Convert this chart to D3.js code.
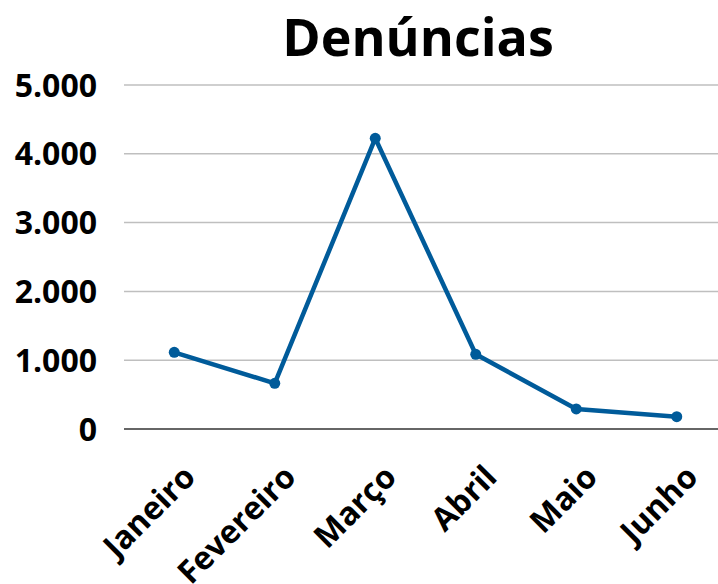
<!DOCTYPE html>
<html>
<head>
<meta charset="utf-8">
<script src="https://cdn.jsdelivr.net/npm/d3@7"></script>
<style>
  body { margin: 0; background: #fff; }
  text { font-family: "Open Sans", sans-serif; font-weight: bold; fill: #000; }
</style>
</head>
<body>
<div id="chart"></div>
<script>
const MONTHS = ["Janeiro", "Fevereiro", "Março", "Abril", "Maio", "Junho"];
const DENUNCIAS = [1115, 664, 4225, 1086, 291, 179];
const Y_TICKS = [0, 1000, 2000, 3000, 4000, 5000];

const WIDTH = 718, HEIGHT = 584;
const LINE_COLOR = "#005b9a";

var svg = d3.select("#chart").append("svg")
  .attr("width", WIDTH)
  .attr("height", HEIGHT);

var x = d3.scaleBand()
  .domain(MONTHS)
  .range([124, 727]);

var y = d3.scaleLinear()
  .domain([0, 5000])
  .range([429, 85]);

// title
svg.append("text")
  .attr("x", 418)
  .attr("y", 56)
  .attr("text-anchor", "middle")
  .style("font-size", "52px")
  .text("Denúncias");

// gridlines
svg.append("g")
  .selectAll("line")
  .data(Y_TICKS.filter(d => d > 0))
  .join("line")
    .attr("x1", 124).attr("x2", WIDTH)
    .attr("y1", d => y(d)).attr("y2", d => y(d))
    .attr("stroke", "#bfbfbf")
    .attr("stroke-width", 1.5);

// y labels
var fmt = d3.formatLocale({ decimal: ",", thousands: ".", grouping: [3], currency: ["", ""] }).format(",d");
svg.append("g")
  .selectAll("text")
  .data(Y_TICKS)
  .join("text")
    .attr("x", 97)
    .attr("y", d => y(d))
    .attr("dy", "0.36em")
    .attr("text-anchor", "end")
    .style("font-size", "32px")
    .text(d => fmt(d));

// x axis line
svg.append("line")
  .attr("x1", 124).attr("x2", WIDTH)
  .attr("y1", y(0)).attr("y2", y(0))
  .attr("stroke", "#666")
  .attr("stroke-width", 2);

// x labels rotated (Fevereiro runs off the bottom, as in the original)
svg.append("g")
  .selectAll("text")
  .data(MONTHS)
  .join("text")
    .attr("text-anchor", "end")
    .attr("transform", d => "translate(" + (x(d) + x.bandwidth() / 2 + 23) + ",479) rotate(-45)")
    .style("font-size", "32px")
    .text(d => d);

var cx = d => x(d) + x.bandwidth() / 2;

var line = d3.line()
  .x((d, i) => cx(MONTHS[i]))
  .y(d => y(d));

svg.append("path")
  .datum(DENUNCIAS)
  .attr("d", line)
  .attr("fill", "none")
  .attr("stroke", LINE_COLOR)
  .attr("stroke-width", 4.5)
  .attr("stroke-linejoin", "round");

svg.append("g")
  .selectAll("circle")
  .data(DENUNCIAS)
  .join("circle")
    .attr("cx", (d, i) => cx(MONTHS[i]))
    .attr("cy", d => y(d))
    .attr("r", 5.5)
    .attr("fill", LINE_COLOR);
</script>
</body>
</html>
